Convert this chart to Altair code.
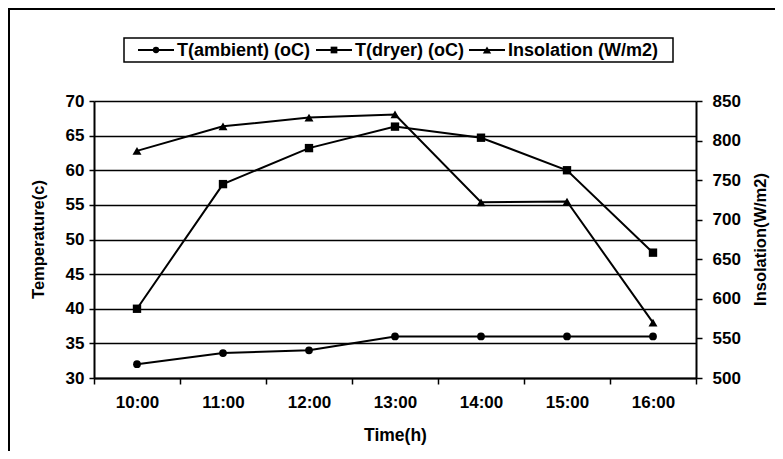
import altair as alt
import pandas as pd

times = ["10:00", "11:00", "12:00", "13:00", "14:00", "15:00", "16:00"]
t_ambient = [32.0, 33.6, 34.0, 36.0, 36.0, 36.0, 36.0]
t_dryer = [40.0, 58.0, 63.2, 66.3, 64.7, 60.0, 48.1]
insolation = [787, 818, 829, 833, 722, 723, 570]
series_names = ["T(ambient) (oC)", "T(dryer) (oC)", "Insolation (W/m2)"]
series_shapes = ["circle", "square", "triangle-up"]
temp_ticks = [30, 35, 40, 45, 50, 55, 60, 65, 70]
ins_ticks = [500, 550, 600, 650, 700, 750, 800, 850]

FONT = "Liberation Sans"

temp_df = pd.DataFrame({
    "time": times * 2,
    "series": [series_names[0]] * len(times) + [series_names[1]] * len(times),
    "value": t_ambient + t_dryer,
})
ins_df = pd.DataFrame({"time": times, "ins": insolation, "series": series_names[2]})

x_scale = alt.Scale(type="band", paddingInner=0, paddingOuter=0)
x_axis = alt.Axis(
    title="Time(h)", tickBand="extent", labelAngle=0, tickSize=6, labelPadding=10,
    titleX=301, titleY=57, titleBaseline="middle", titleFontSize=17.5,
)


def xenc():
    return alt.X("time:N", sort=times, bandPosition=0.5, scale=x_scale, axis=x_axis)


y_temp = alt.Y(
    "value:Q",
    scale=alt.Scale(domain=[30, 70], nice=False, zero=False),
    axis=alt.Axis(
        values=temp_ticks, title="Temperature(c)", grid=True, gridColor="black",
        gridWidth=1.4, gridOpacity=1, tickSize=5, labelPadding=5,
        titleX=-56, titleY=138, titleAngle=-90, titleBaseline="middle",
        titleAlign="center", titleFontSize=16.5,
    ),
)
y_ins = alt.Y(
    "ins:Q",
    scale=alt.Scale(domain=[500, 850], nice=False, zero=False),
    axis=alt.Axis(
        orient="right", values=ins_ticks, title="Insolation(W/m2)", grid=False,
        tickSize=6, labelPadding=10, titleX=64, titleY=138, titleAngle=-90,
        titleBaseline="middle", titleAlign="center", titleFontSize=16.5,
    ),
)

shape_scale = alt.Scale(domain=series_names, range=series_shapes)
size_scale = alt.Scale(domain=series_names, range=[60, 80, 130])

temp_line = alt.Chart(temp_df).mark_line(color="black", strokeWidth=2).encode(
    x=xenc(), y=y_temp, detail="series:N"
)
temp_pts = alt.Chart(temp_df).mark_point(filled=True, color="black", opacity=1).encode(
    x=xenc(), y=y_temp,
    shape=alt.Shape("series:N", scale=shape_scale, legend=None),
    size=alt.Size("series:N", scale=size_scale, legend=None),
)
temp_layer = alt.layer(temp_line, temp_pts)

ins_line = alt.Chart(ins_df).mark_line(color="black", strokeWidth=2).encode(x=xenc(), y=y_ins)
ins_pts = alt.Chart(ins_df).mark_point(filled=True, color="black", opacity=1).encode(
    x=xenc(), y=y_ins,
    shape=alt.Shape("series:N", scale=shape_scale, legend=None),
    size=alt.Size("series:N", scale=size_scale, legend=None),
)
ins_layer = alt.layer(ins_line, ins_pts)

one = alt.Data(values=[{"k": 1}])

frame = alt.Chart(one).mark_rect(fill=None, stroke="black", strokeWidth=2).encode(
    x=alt.value(-85), x2=alt.value(720), y=alt.value(-92), y2=alt.value(420)
)
legend_box = alt.Chart(one).mark_rect(fill="white", stroke="black", strokeWidth=1.5).encode(
    x=alt.value(30), x2=alt.value(579), y=alt.value(-63), y2=alt.value(-39)
)

legend_layers = [frame, legend_box]
line_starts = [44, 222, 375]
legend_sizes = [40, 45, 70]
for name, shape, lx, sz in zip(series_names, series_shapes, line_starts, legend_sizes):
    legend_layers.append(
        alt.Chart(one).mark_rule(color="black", strokeWidth=2).encode(
            x=alt.value(lx), x2=alt.value(lx + 36), y=alt.value(-51)
        )
    )
    legend_layers.append(
        alt.Chart(one).mark_point(filled=True, color="black", size=sz, opacity=1, shape=shape).encode(
            x=alt.value(lx + 18), y=alt.value(-51)
        )
    )
    legend_layers.append(
        alt.Chart(one).mark_text(
            align="left", baseline="middle", font=FONT, fontSize=18, fontWeight="bold", color="black"
        ).encode(x=alt.value(lx + 39), y=alt.value(-50), text=alt.value(name))
    )

chart = alt.layer(
    temp_layer, ins_layer, *legend_layers
).resolve_scale(y="independent").properties(
    width=602,
    height=277,
    padding={"left": 86, "top": 93, "right": 79, "bottom": 73},
    autosize=alt.AutoSizeParams(type="none"),
    background="white",
).configure_view(stroke=None).configure_axis(
    domainColor="black", domainWidth=2, tickColor="black", tickWidth=1.5,
    labelFont=FONT, labelFontSize=17, labelFontWeight="bold", labelColor="black",
    titleFont=FONT, titleFontWeight="bold", titleColor="black",
)

chart.save("out.html", embed_options={"renderer": "svg", "actions": False})
